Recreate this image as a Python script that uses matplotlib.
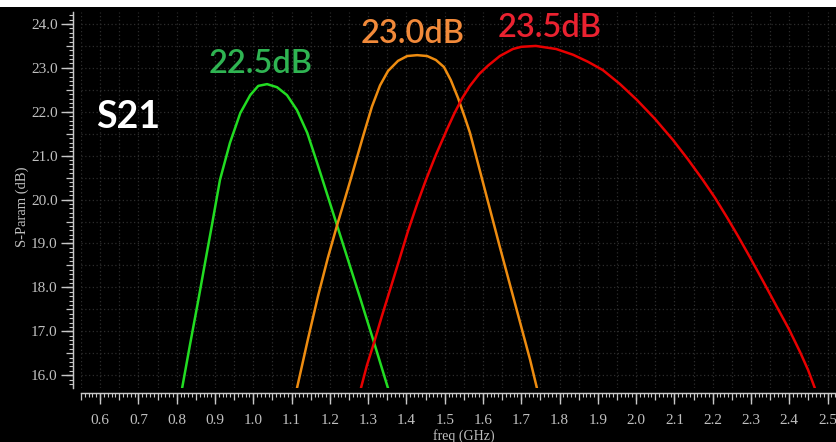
import numpy as np
import matplotlib
matplotlib.use("Agg")
import matplotlib.pyplot as plt
from matplotlib.patches import Rectangle
from matplotlib.ticker import MultipleLocator, NullFormatter, FormatStrFormatter

# S21 gain sweeps for three tuning states (frequency in GHz, gain in dB)
green_freq = [0.814, 0.835, 0.856, 0.874, 0.892, 0.913, 0.939, 0.966, 0.992, 1.013,
              1.036, 1.062, 1.088, 1.114, 1.141, 1.167, 1.201, 1.240, 1.279, 1.318, 1.352]
green_gain = [15.70, 16.71, 17.69, 18.56, 19.42, 20.45, 21.29, 21.97, 22.38, 22.59,
              22.63, 22.56, 22.38, 22.04, 21.52, 20.83, 19.90, 18.83, 17.76, 16.67, 15.70]

orange_freq = [1.114, 1.143, 1.169, 1.195, 1.219, 1.253, 1.287, 1.310, 1.331, 1.352,
               1.378, 1.402, 1.428, 1.454, 1.477, 1.498, 1.516, 1.535, 1.553, 1.566,
               1.605, 1.644, 1.684, 1.723, 1.741]
orange_gain = [15.70, 16.83, 17.80, 18.68, 19.42, 20.42, 21.45, 22.12, 22.60, 22.93,
               23.16, 23.27, 23.29, 23.27, 23.18, 23.02, 22.72, 22.31, 21.86, 21.52,
               20.22, 18.92, 17.62, 16.35, 15.70]

red_freq = [1.281, 1.297, 1.315, 1.336, 1.357, 1.381, 1.404, 1.428, 1.451, 1.477,
            1.506, 1.525, 1.545, 1.565, 1.590, 1.613, 1.644, 1.678, 1.700, 1.738,
            1.791, 1.835, 1.874, 1.913, 1.958, 2.002, 2.049, 2.096, 2.135, 2.174,
            2.206, 2.237, 2.266, 2.297, 2.331, 2.368, 2.399, 2.428, 2.449, 2.467]
red_gain = [15.70, 16.23, 16.73, 17.35, 17.94, 18.62, 19.28, 19.90, 20.45, 21.02,
            21.60, 21.96, 22.30, 22.58, 22.86, 23.05, 23.27, 23.43, 23.48, 23.50,
            23.43, 23.30, 23.14, 22.95, 22.63, 22.27, 21.84, 21.36, 20.92, 20.45,
            20.04, 19.60, 19.17, 18.69, 18.15, 17.55, 17.05, 16.53, 16.12, 15.70]

peak_labels = ["22.5dB", "23.0dB", "23.5dB"]
title_label = "S21"
x_label = "freq (GHz)"
y_label = "S-Param (dB)"

line_colors = ["#22dd22", "#ee8c10", "#e80000"]
text_colors = ["#2fb452", "#f28a3a", "#ea2230"]
axis_gray = "#c8c8c8"
label_gray = "#c0c0c0"
grid_gray = "#2c2c2c"

W, H = 836, 442
fig = plt.figure(figsize=(W / 100, H / 100), dpi=100, facecolor="black")
# thin white strip along the top edge
fig.patches.append(Rectangle((0, 1 - 7 / H), 1, 7 / H, transform=fig.transFigure,
                             facecolor="white", edgecolor="none", zorder=0))

ax = fig.add_axes([81 / W, 1 - 388 / H, 1 - 81 / W, (388 - 12) / H])
ax.set_facecolor("black")
ax.set_xlim(0.550, 2.522)
ax.set_ylim(15.708, 24.273)

for f, g, c in zip([green_freq, orange_freq, red_freq],
                   [green_gain, orange_gain, red_gain], line_colors):
    ax.plot(f, g, color=c, lw=1.8, solid_capstyle="butt", solid_joinstyle="round", zorder=3)

# spines: detached left and bottom rulers
for s in ["top", "right"]:
    ax.spines[s].set_visible(False)
ax.spines["left"].set_position(("outward", 5.8))
ax.spines["bottom"].set_position(("outward", 3.6))
for s in ["left", "bottom"]:
    ax.spines[s].set_color(axis_gray)
    ax.spines[s].set_linewidth(1.0)

# grid ticks (0.05 GHz / 0.5 dB) with medium length, fine ruler ticks as minors
ax.xaxis.set_major_locator(MultipleLocator(0.05))
ax.xaxis.set_minor_locator(MultipleLocator(0.01))
ax.yaxis.set_major_locator(MultipleLocator(0.5))
ax.yaxis.set_minor_locator(MultipleLocator(0.1))
ax.xaxis.set_major_formatter(NullFormatter())
ax.yaxis.set_major_formatter(NullFormatter())
ax.tick_params(axis="both", which="major", direction="out", length=5, width=0.9, color=axis_gray)
ax.tick_params(axis="both", which="minor", direction="out", length=3, width=0.8, color=axis_gray)
ax.grid(True, which="major", color=grid_gray, linestyle=(0, (1, 2)), linewidth=0.9, zorder=1)

# labelled long ticks
secx = ax.secondary_xaxis("bottom")
secx.spines["bottom"].set_position(("outward", 3.6))
secx.spines["bottom"].set_color(axis_gray)
secx.set_xticks(np.round(np.arange(0.6, 2.51, 0.1), 2))
secx.xaxis.set_major_formatter(FormatStrFormatter("%.1f"))
secx.tick_params(axis="x", length=8, width=1.0, color=axis_gray, labelcolor=label_gray,
                 labelsize=11, pad=7)
for t in secx.get_xticklabels():
    t.set_family("Liberation Serif")

secy = ax.secondary_yaxis("left")
secy.spines["left"].set_position(("outward", 5.8))
secy.spines["left"].set_color(axis_gray)
secy.set_yticks(np.arange(16, 24.1, 1.0))
secy.yaxis.set_major_formatter(FormatStrFormatter("%.1f"))
secy.tick_params(axis="y", length=9, width=1.0, color=axis_gray, labelcolor=label_gray,
                 labelsize=11, pad=2)
for t in secy.get_yticklabels():
    t.set_family("Liberation Serif")

fig.text(464 / W, 1 - 436 / H, x_label, color=label_gray, fontsize=10,
         family="Liberation Serif", ha="center", va="center")
fig.text(22 / W, 1 - 207 / H, y_label, color=label_gray, fontsize=10.5,
         family="Liberation Serif", ha="center", va="center", rotation=90)

# annotations
ax.text(0.673, 21.63, title_label, color="white", fontsize=27, fontweight="bold",
        family="Lato", ha="center", va="baseline", zorder=4)
label_pos = [(1.018, 22.88), (1.415, 23.57), (1.775, 23.70)]
for txt, c, (px, py) in zip(peak_labels, text_colors, label_pos):
    ax.text(px, py, txt, color=c, fontsize=23.5, fontweight="semibold", family="Lato",
            ha="center", va="baseline", zorder=4, clip_on=False)

fig.savefig("out.png", dpi=100, facecolor="black")
